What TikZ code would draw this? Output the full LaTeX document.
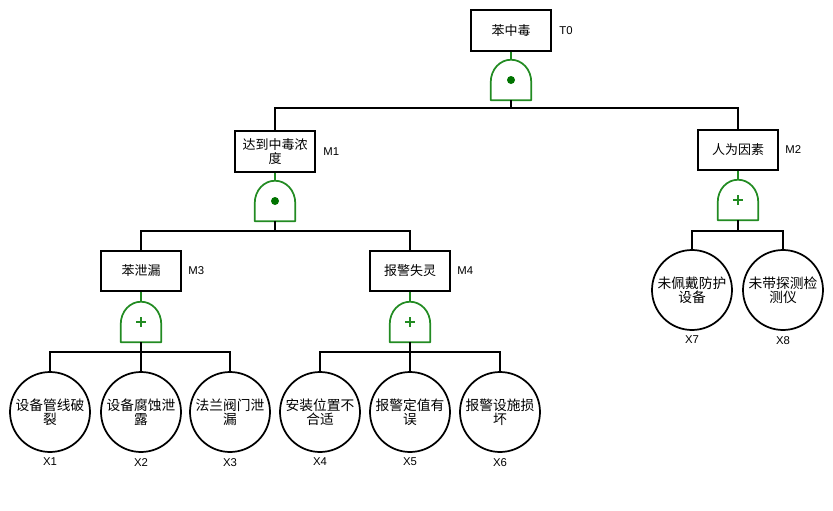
\documentclass[tikz,border=0pt]{standalone}
\usepackage{fontspec}
\setmainfont{Liberation Sans}
\newfontfamily\cjk{Noto Sans CJK SC}
\usetikzlibrary{calc}
\definecolor{gcol}{RGB}{34,139,34}
\definecolor{dotcol}{RGB}{0,115,0}
\tikzset{
 evbox/.style={draw, line width=1.3pt, minimum width=60.5pt, minimum height=30.5pt, inner sep=1pt, align=center, font=\cjk\fontsize{9.75}{11}\selectfont},
 basic/.style={draw, circle, line width=1.3pt, minimum size=60pt, inner sep=0pt, align=center, font=\cjk\fontsize{10.3}{10.8}\selectfont},
 gatebox/.style={minimum width=30pt, minimum height=30pt, inner sep=0pt},
 gateline/.style={draw=gcol, line width=1.3pt, line join=round},
 conn/.style={line width=1.4pt},
 gconn/.style={draw=gcol, line width=1.3pt},
 lab/.style={font=\fontsize{8.5}{10}\selectfont, inner sep=0pt},
}
\newcommand\drawgate[1]{\draw[gateline] (#1.south west) -- ++(0,-18) .. controls +(0,-13) and +(-11,0) .. (#1.north) .. controls +(11,0) and +(0,-13) .. ($(#1.south east)+(0,-18)$) -- (#1.south east) -- cycle;}
\newcommand\anddot[1]{\fill[dotcol] (#1) circle[radius=3pt];}
\newcommand\orplus[1]{\draw[draw=gcol, line width=1.4pt] ($(#1)+(-5,0)$) -- ($(#1)+(5,0)$) ($(#1)+(0,-5)$) -- ($(#1)+(0,5)$);}
\begin{document}
\begin{tikzpicture}[x=0.75pt,y=-0.75pt]
\useasboundingbox (0,0) rectangle (833,511);
% events
\node[evbox] (t0) at (511,30.5) {苯中毒};
\node[evbox] (m1) at (275,151.5) {达到中毒浓\\度};
\node[evbox] (m2) at (738,150) {人为因素};
\node[evbox] (m3) at (141,271) {苯泄漏};
\node[evbox] (m4) at (410,271) {报警失灵};
% labels
\node[lab, anchor=west] (lt0) at ($(t0.east)+(7,0)$) {T0};
\node[lab, anchor=west] (lm1) at ($(m1.east)+(7,0)$) {M1};
\node[lab, anchor=west] (lm2) at ($(m2.east)+(6,0)$) {M2};
\node[lab, anchor=west] (lm3) at ($(m3.east)+(6,0)$) {M3};
\node[lab, anchor=west] (lm4) at ($(m4.east)+(6,0)$) {M4};
% gates
\node[gatebox] (g0) at (511,80) {};
\node[gatebox] (g1) at (275,201) {};
\node[gatebox] (g2) at (738,200) {};
\node[gatebox] (g3) at (141,322) {};
\node[gatebox] (g4) at (410,322) {};
\drawgate{g0}\drawgate{g1}\drawgate{g2}\drawgate{g3}\drawgate{g4}
\anddot{g0}\anddot{g1}
\orplus{g2}\orplus{g3}\orplus{g4}
% basic events
\node[basic] (x1) at (50,412) {设备管线破\\裂};
\node[basic] (x2) at (141,412) {设备腐蚀泄\\露};
\node[basic] (x3) at (230,412) {法兰阀门泄\\漏};
\node[basic] (x4) at (320,412) {安装位置不\\合适};
\node[basic] (x5) at (410,412) {报警定值有\\误};
\node[basic] (x6) at (500,412) {报警设施损\\坏};
\node[basic] (x7) at (692,290) {未佩戴防护\\设备};
\node[basic] (x8) at (783,290) {未带探测检\\测仪};
\foreach \n/\t in {x1/X1,x2/X2,x3/X3,x4/X4,x5/X5,x6/X6,x7/X7,x8/X8}
  \node[lab, anchor=north] (l\n) at ($(\n.south)+(0,5)$) {\t};
% connectors
\coordinate (b0) at (511,108);
\coordinate (b1) at (275,231);
\coordinate (b2) at (738,231);
\coordinate (b3) at (141,352);
\coordinate (b4) at (410,352);
\draw[gconn] (t0.south) -- (g0.north);
\draw[gconn] (m1.south) -- (g1.north);
\draw[gconn] (m2.south) -- (g2.north);
\draw[gconn] (m3.south) -- (g3.north);
\draw[gconn] (m4.south) -- (g4.north);
\draw[conn] (g0.south) -- (b0);
\draw[conn] (m1.north) |- (b0) -| (m2.north);
\draw[conn] (g1.south) -- (b1);
\draw[conn] (m3.north) |- (b1) -| (m4.north);
\draw[conn] (g2.south) -- (b2);
\draw[conn] (x7.north) |- (b2) -| (x8.north);
\draw[conn] (g3.south) -- (b3);
\draw[conn] (x1.north) |- (b3) -| (x3.north);
\draw[conn] (b3) -- (x2.north);
\draw[conn] (g4.south) -- (b4);
\draw[conn] (x4.north) |- (b4) -| (x6.north);
\draw[conn] (b4) -- (x5.north);
\end{tikzpicture}
\end{document}
